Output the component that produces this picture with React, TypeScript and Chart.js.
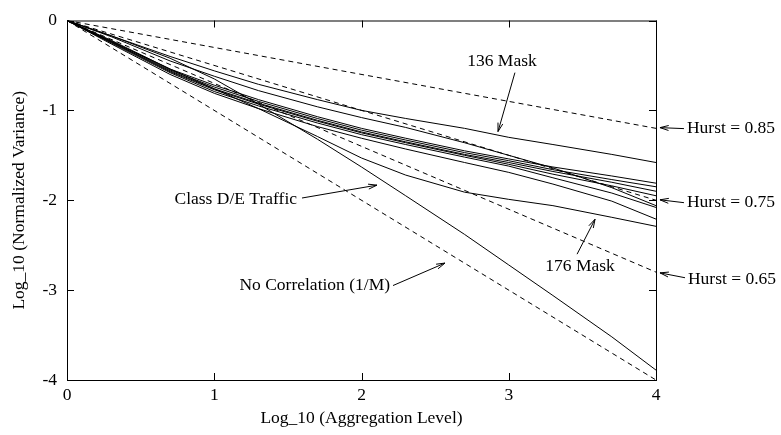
import React, { useEffect, useRef } from 'react';
import { Chart, registerables } from 'chart.js';

Chart.register(...registerables);

// Aggregation levels (log10 M)
const xLevels = [0, 0.3, 0.7, 1, 1.3, 1.7, 2, 2.3, 2.7, 3, 3.3, 3.7, 4];

// Traffic traces: log10 of normalized variance
const mask136 = [0, -0.17, -0.4, -0.56, -0.71, -0.88, -1.0, -1.09, -1.2, -1.3, -1.38, -1.49, -1.58];
const traceB = [0, -0.18, -0.45, -0.62, -0.78, -0.96, -1.08, -1.19, -1.36, -1.5, -1.64, -1.86, -2.06];
const traceC1 = [0, -0.23, -0.54, -0.72, -0.88, -1.07, -1.2, -1.31, -1.45, -1.54, -1.63, -1.73, -1.81];
const traceC2 = [0, -0.23, -0.55, -0.74, -0.9, -1.09, -1.22, -1.33, -1.47, -1.56, -1.66, -1.77, -1.85];
const traceC3 = [0, -0.24, -0.56, -0.76, -0.92, -1.11, -1.24, -1.35, -1.49, -1.58, -1.68, -1.8, -1.9];
const traceC4 = [0, -0.24, -0.57, -0.77, -0.93, -1.12, -1.25, -1.36, -1.5, -1.6, -1.71, -1.84, -1.95];
const traceC5 = [0, -0.25, -0.58, -0.79, -0.95, -1.14, -1.27, -1.38, -1.52, -1.62, -1.75, -1.92, -2.08];
const traceC6 = [0, -0.26, -0.6, -0.81, -0.98, -1.18, -1.31, -1.43, -1.58, -1.69, -1.82, -2.01, -2.21];
const mask176 = [0, -0.22, -0.54, -0.76, -0.98, -1.29, -1.53, -1.72, -1.91, -1.99, -2.06, -2.19, -2.29];
const classDE = [0, -0.17, -0.42, -0.65, -0.93, -1.32, -1.63, -1.95, -2.38, -2.72, -3.06, -3.52, -3.89];

// Reference lines (slope 2H-2)
const refX = [0, 4];
const hurst085 = [0, -1.2];
const hurst075 = [0, -2.0];
const hurst065 = [0, -2.8];
const noCorrelation = [0, -4.0];

const xTickValues = [0, 1, 2, 3, 4];
const yTickValues = [0, -1, -2, -3, -4];

const FONT = '"Liberation Serif", "DejaVu Serif", serif';
const FSIZE = 17.5;

type Note = { text: string; tx: number; ty: number; align: CanvasTextAlign; ax1: number; ay1: number; ax2: number; ay2: number };
const notes: Note[] = [
  { text: '136 Mask', tx: 2.954, ty: -0.455, align: 'center', ax1: 3.042, ay1: -0.58, ax2: 2.927, ay2: -1.236 },
  { text: 'Class D/E Traffic', tx: 1.562, ty: -1.995, align: 'right', ax1: 1.596, ay1: -1.975, ax2: 2.105, ay2: -1.832 },
  { text: 'No Correlation (1/M)', tx: 2.194, ty: -2.949, align: 'right', ax1: 2.214, ay1: -2.949, ax2: 2.567, ay2: -2.699 },
  { text: '176 Mask', tx: 3.484, ty: -2.732, align: 'center', ax1: 3.464, ay1: -2.6, ax2: 3.586, ay2: -2.211 },
  { text: 'Hurst = 0.85', tx: 4.21, ty: -1.203, align: 'left', ax1: 4.19, ay1: -1.203, ax2: 4.027, ay2: -1.192 },
  { text: 'Hurst = 0.75', tx: 4.21, ty: -2.027, align: 'left', ax1: 4.19, ay1: -2.027, ax2: 4.027, ay2: -1.995 },
  { text: 'Hurst = 0.65', tx: 4.217, ty: -2.883, align: 'left', ax1: 4.197, ay1: -2.862, ax2: 4.027, ay2: -2.808 },
];

const pts = (xs: number[], ys: number[]) => xs.map((x, i) => ({ x, y: ys[i] }));

const framePlugin = {
  id: 'frameAndNotes',
  afterDatasetsDraw(chart: any) {
    const { ctx, chartArea: a, scales } = chart;
    const xs = scales.x;
    const ys = scales.y;
    ctx.save();
    ctx.strokeStyle = '#000';
    ctx.lineWidth = 1;
    ctx.setLineDash([]);
    ctx.strokeRect(a.left + 0.5, a.top + 0.5, a.right - a.left, a.bottom - a.top);
    const tl = 7;
    ctx.beginPath();
    xTickValues.forEach((v) => {
      const px = Math.round(xs.getPixelForValue(v)) + 0.5;
      ctx.moveTo(px, a.bottom);
      ctx.lineTo(px, a.bottom - tl);
      ctx.moveTo(px, a.top);
      ctx.lineTo(px, a.top + tl);
    });
    yTickValues.forEach((v) => {
      const py = Math.round(ys.getPixelForValue(v)) + 0.5;
      ctx.moveTo(a.left, py);
      ctx.lineTo(a.left + tl, py);
      ctx.moveTo(a.right, py);
      ctx.lineTo(a.right - tl, py);
    });
    ctx.stroke();

    ctx.font = FSIZE + 'px ' + FONT;
    ctx.fillStyle = '#000';
    ctx.textBaseline = 'middle';
    notes.forEach((n) => {
      ctx.textAlign = n.align;
      ctx.fillText(n.text, xs.getPixelForValue(n.tx), ys.getPixelForValue(n.ty));
      const x1 = xs.getPixelForValue(n.ax1);
      const y1 = ys.getPixelForValue(n.ay1);
      const x2 = xs.getPixelForValue(n.ax2);
      const y2 = ys.getPixelForValue(n.ay2);
      const ang = Math.atan2(y2 - y1, x2 - x1);
      const hl = 9;
      const sp = 0.28;
      ctx.beginPath();
      ctx.moveTo(x1, y1);
      ctx.lineTo(x2, y2);
      ctx.moveTo(x2 - hl * Math.cos(ang - sp), y2 - hl * Math.sin(ang - sp));
      ctx.lineTo(x2, y2);
      ctx.lineTo(x2 - hl * Math.cos(ang + sp), y2 - hl * Math.sin(ang + sp));
      ctx.stroke();
    });
    ctx.restore();
  },
};

export default function App() {
  const canvasRef = useRef<HTMLCanvasElement | null>(null);

  useEffect(() => {
    const canvas = canvasRef.current;
    if (!canvas) return;
    const solid = (label: string, ys: number[]) => ({
      label,
      data: pts(xLevels, ys),
      borderColor: '#000',
      borderWidth: 1,
      pointRadius: 0,
      fill: false,
      tension: 0,
    });
    const dashed = (label: string, ys: number[]) => ({
      label,
      data: pts(refX, ys),
      borderColor: '#000',
      borderWidth: 1,
      borderDash: [5, 4],
      pointRadius: 0,
      fill: false,
    });
    const chart = new Chart(canvas, {
      type: 'line',
      data: {
        datasets: [
          dashed('Hurst = 0.85', hurst085),
          dashed('Hurst = 0.75', hurst075),
          dashed('Hurst = 0.65', hurst065),
          dashed('No Correlation (1/M)', noCorrelation),
          solid('136 Mask', mask136),
          solid('Trace B', traceB),
          solid('Trace C1', traceC1),
          solid('Trace C2', traceC2),
          solid('Trace C3', traceC3),
          solid('Trace C4', traceC4),
          solid('Trace C5', traceC5),
          solid('Trace C6', traceC6),
          solid('176 Mask', mask176),
          solid('Class D/E Traffic', classDE),
        ],
      },
      options: {
        responsive: false,
        animation: false,
        layout: { padding: { left: 0, right: 125, top: 11, bottom: 0 } },
        plugins: { legend: { display: false }, tooltip: { enabled: false } },
        scales: {
          x: {
            type: 'linear',
            min: 0,
            max: 4,
            afterFit: (s: any) => { s.height = 55; },
            afterBuildTicks: (s: any) => { s.ticks = xTickValues.map((v) => ({ value: v })); },
            grid: { display: false, drawTicks: false },
            border: { display: false },
            ticks: { color: '#000', padding: 5, font: { family: FONT, size: FSIZE }, callback: (v: any) => String(v) },
            title: { display: true, text: 'Log_10 (Aggregation Level)', color: '#000', font: { family: FONT, size: FSIZE }, padding: { top: 0, bottom: 6 } },
          },
          y: {
            type: 'linear',
            min: -4,
            max: 0,
            afterFit: (s: any) => { s.width = 67; },
            afterBuildTicks: (s: any) => { s.ticks = yTickValues.map((v) => ({ value: v })); },
            grid: { display: false, drawTicks: false },
            border: { display: false },
            ticks: { color: '#000', padding: 10, font: { family: FONT, size: FSIZE }, callback: (v: any) => String(v) },
            title: { display: true, text: 'Log_10 (Normalized Variance)', color: '#000', font: { family: FONT, size: FSIZE }, padding: { top: 9, bottom: 0 } },
          },
        },
      },
      plugins: [framePlugin],
    } as any);
    return () => chart.destroy();
  }, []);

  return (
    <div style={{ position: 'fixed', left: 0, top: 0, width: 781, height: 435, background: '#fff' }}>
      <canvas ref={canvasRef} width={781} height={435} style={{ display: 'block' }} />
    </div>
  );
}
